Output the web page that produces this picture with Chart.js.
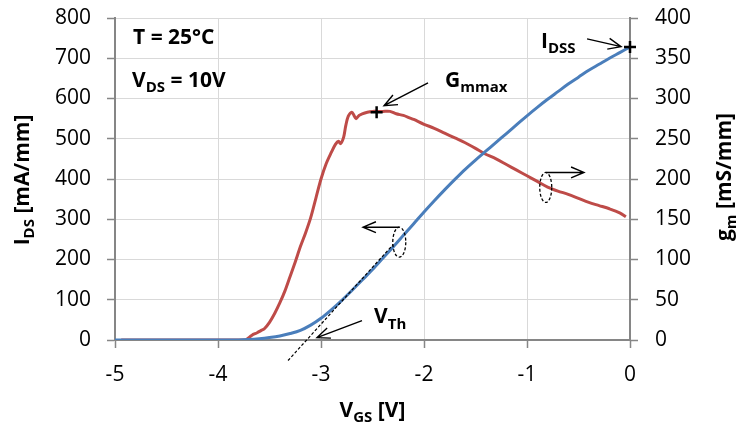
<!DOCTYPE html>
<html><head><meta charset="utf-8">
<script src="https://cdn.jsdelivr.net/npm/chart.js@4/dist/chart.umd.min.js"></script>
<style>html,body{margin:0;padding:0;background:#fff;}#wrap{width:736px;height:427px;position:relative;}canvas{display:block;}</style>
</head><body><div id="wrap"><canvas id="c" width="736" height="427"></canvas></div>
<script>
// ---- data ----
const xTicks = [-5, -4, -3, -2, -1, 0];
const leftTicks = [0, 100, 200, 300, 400, 500, 600, 700, 800];
const rightTicks = [0, 50, 100, 150, 200, 250, 300, 350, 400];

const vgsIds = [-5,-4.5,-4,-3.8,-3.7,-3.6,-3.5,-3.4,-3.3,-3.2,-3.1,-3.0,-2.9,-2.8,-2.7,-2.6,-2.5,-2.4,-2.3,-2.2,-2.1,-2.0,-1.9,-1.8,-1.7,-1.6,-1.5,-1.4,-1.3,-1.2,-1.1,-1.0,-0.9,-0.8,-0.7,-0.6,-0.5,-0.4,-0.3,-0.2,-0.1,0];
const idsValues = [0,0,0,0,1,3,6,10,16,24,37,54,75,98,123,149,175,203,231,260,289,318,346,373,399,424,447,469,491,513,535,557,578,598,617,636,653,670,685,700,714,728];

const vgsGm = [-4.94,-4.5,-4,-3.74,-3.72,-3.67,-3.62,-3.58,-3.55,-3.5,-3.45,-3.4,-3.35,-3.3,-3.25,-3.2,-3.15,-3.1,-3.05,-3.0,-2.95,-2.9,-2.86,-2.83,-2.81,-2.78,-2.76,-2.735,-2.70,-2.68,-2.66,-2.63,-2.6,-2.55,-2.5,-2.45,-2.4,-2.33,-2.27,-2.2,-2.14,-2.1,-2.0,-1.9,-1.8,-1.7,-1.6,-1.5,-1.42,-1.3,-1.2,-1.1,-1.0,-0.9,-0.8,-0.7,-0.6,-0.5,-0.4,-0.3,-0.2,-0.1,-0.04];
const gmValues = [0,0,0,0,1,6,9,12,14,22,33,46,61,79,97,116,133,152,176,200,219,233,243,247,244,252,266,278,283,279,275,279,281,283,284,284,284,284,281,279,276,274,268,263,257,251,245,238,232,225,218,211,204,197,190,185,181,176,171,167,163,158,153];

const tangentV = [-3.32, -2.30];
const tangentIds = [-51, 237];

const gmMaxV = [-2.46];
const gmMaxValue = [283];
const idssV = [0];
const idssValue = [728];

// ---- helpers ----
const FONT = '"Open Sans", "Liberation Sans", sans-serif';
function toXY(xs, ys){ return xs.map((v,i)=>({x:v, y:ys[i]})); }

function drawRich(ctx, parts, x, y, size, align){
  const sub = Math.round(size*0.7);
  let w = 0;
  for (const [t,s] of parts){ ctx.font = 'bold ' + (s?sub:size) + 'px ' + FONT; w += ctx.measureText(t).width; }
  let cx = align === 'center' ? x - w/2 : x;
  ctx.textAlign = 'left'; ctx.textBaseline = 'alphabetic'; ctx.fillStyle = '#000';
  for (const [t,s] of parts){
    ctx.font = 'bold ' + (s?sub:size) + 'px ' + FONT;
    ctx.fillText(t, cx, y + (s ? size*0.26 : 0));
    cx += ctx.measureText(t).width;
  }
}
function arrow(ctx, x1, y1, x2, y2){
  const head = 14, ang = 0.4;
  const a = Math.atan2(y2-y1, x2-x1);
  ctx.beginPath();
  ctx.moveTo(x1,y1); ctx.lineTo(x2,y2);
  ctx.moveTo(x2 - head*Math.cos(a-ang), y2 - head*Math.sin(a-ang));
  ctx.lineTo(x2,y2);
  ctx.lineTo(x2 - head*Math.cos(a+ang), y2 - head*Math.sin(a+ang));
  ctx.stroke();
}
function dashedEllipse(ctx, cx, cy, rx, ry){
  ctx.save(); ctx.setLineDash([3,2]); ctx.lineWidth = 1.3;
  ctx.beginPath(); ctx.ellipse(cx, cy, rx, ry, 0, 0, Math.PI*2); ctx.stroke();
  ctx.restore();
}

const annot = {
  id: 'annot',
  afterDraw(chart){
    const ctx = chart.ctx, sx = chart.scales.x, sy = chart.scales.y;
    const X = v => sx.getPixelForValue(v), Y = v => sy.getPixelForValue(v);
    ctx.save();
    ctx.strokeStyle = '#000'; ctx.lineWidth = 1.4;
    // text labels
    drawRich(ctx, [['T = 25°C', false]], X(-4.825), Y(736), 21, 'left');
    drawRich(ctx, [['V', false], ['DS', true], [' = 10V', false]], X(-4.835), Y(629), 21, 'left');
    drawRich(ctx, [['G', false], ['mmax', true]], X(-1.796), Y(629), 21, 'left');
    drawRich(ctx, [['I', false], ['DSS', true]], X(-0.864), Y(726), 21, 'left');
    drawRich(ctx, [['V', false], ['Th', true]], X(-2.485), Y(41), 21, 'left');
    // arrows
    arrow(ctx, X(-1.961), Y(639), X(-2.388), Y(582));
    arrow(ctx, X(-0.417), Y(748), X(-0.087), Y(729));
    arrow(ctx, X(-2.602), Y(48), X(-3.039), Y(6));
    // ellipse markers with direction arrows
    const bx = X(-2.240), by = Y(243);
    dashedEllipse(ctx, bx, by, 6.5, 15);
    arrow(ctx, bx, by - 15, X(-2.592), by - 15);
    const rx = X(-0.818), ry = Y(379);
    dashedEllipse(ctx, rx, ry, 6, 15);
    arrow(ctx, rx, ry - 15, X(-0.447), ry - 15);
    // axis titles
    const ca = chart.chartArea;
    const midY = (ca.top + ca.bottom)/2;
    ctx.save(); ctx.translate(29, midY + 1); ctx.rotate(-Math.PI/2);
    drawRich(ctx, [['I', false], ['DS', true], [' [mA/mm]', false]], 0, 0, 21, 'center');
    ctx.restore();
    ctx.save(); ctx.translate(731, midY - 2); ctx.rotate(-Math.PI/2);
    drawRich(ctx, [['g', false], ['m', true], [' [mS/mm]', false]], 0, 0, 21, 'center');
    ctx.restore();
    drawRich(ctx, [['V', false], ['GS', true], [' [V]', false]], (ca.left + ca.right)/2, 417, 21, 'center');
    ctx.restore();
  }
};

const tickFont = {family: FONT, size: 21};
const axisGray = '#868686';
const gridGray = '#D9D9D9';

new Chart(document.getElementById('c'), {
  type: 'line',
  data: {
    datasets: [
      {label: 'IDS', data: toXY(vgsIds, idsValues), yAxisID: 'y', borderColor: '#4A7EBB', borderWidth: 3, pointRadius: 0, cubicInterpolationMode: 'monotone', order: 2},
      {label: 'gm', data: toXY(vgsGm, gmValues), yAxisID: 'y1', borderColor: '#BE4B48', borderWidth: 3, pointRadius: 0, tension: 0.3, order: 3},
      {label: 'tangent', data: toXY(tangentV, tangentIds), yAxisID: 'y', borderColor: '#000', borderWidth: 1.2, borderDash: [3,2], pointRadius: 0, clip: false, order: 1},
      {label: 'Gmmax', data: toXY(gmMaxV, gmMaxValue), yAxisID: 'y1', showLine: false, pointStyle: 'cross', pointRadius: 6, borderColor: '#000', backgroundColor: '#000', borderWidth: 2.5, clip: false, order: 0},
      {label: 'IDSS', data: toXY(idssV, idssValue), yAxisID: 'y', showLine: false, pointStyle: 'cross', pointRadius: 6, borderColor: '#000', backgroundColor: '#000', borderWidth: 2.5, clip: false, order: 0}
    ]
  },
  options: {
    responsive: false, animation: false, events: [],
    layout: {padding: {top: 18, left: 0, right: 0, bottom: 0}},
    plugins: {legend: {display: false}, tooltip: {enabled: false}},
    scales: {
      x: {
        type: 'linear', min: -5, max: 0,
        afterBuildTicks(s){ s.ticks = xTicks.map(v => ({value: v})); },
        ticks: {font: tickFont, color: '#000', padding: 14, maxRotation: 0},
        grid: {color: gridGray, lineWidth: 1, tickLength: 8, tickColor: axisGray, tickWidth: 1.5},
        border: {color: axisGray, width: 2},
        afterFit(s){ s.height = 87; }
      },
      y: {
        position: 'left', min: 0, max: 800,
        afterBuildTicks(s){ s.ticks = leftTicks.map(v => ({value: v})); },
        ticks: {font: tickFont, color: '#000', padding: 16},
        grid: {color: gridGray, lineWidth: 1, tickLength: 8, tickColor: axisGray, tickWidth: 1.5},
        border: {color: axisGray, width: 2},
        afterFit(s){ s.width = 115; s.paddingTop = 10; s.paddingBottom = 10; }
      },
      y1: {
        position: 'right', min: 0, max: 400,
        afterBuildTicks(s){ s.ticks = rightTicks.map(v => ({value: v})); },
        ticks: {font: tickFont, color: '#000', padding: 17},
        grid: {drawOnChartArea: false, tickLength: 8, tickColor: axisGray, tickWidth: 1.5},
        border: {color: axisGray, width: 2},
        afterFit(s){ s.width = 106; s.paddingTop = 10; s.paddingBottom = 10; }
      }
    }
  },
  plugins: [annot]
});
</script>
</body></html>
